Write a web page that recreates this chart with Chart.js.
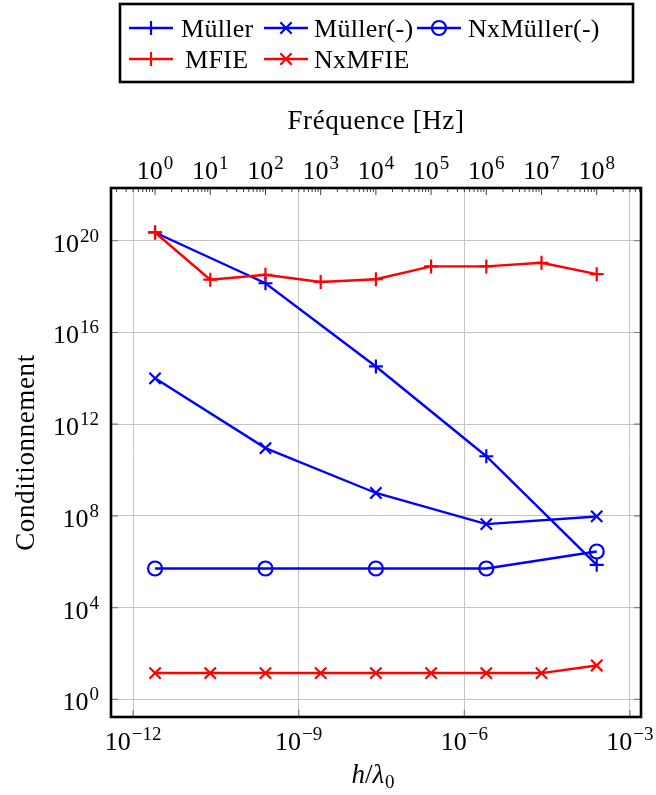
<!DOCTYPE html>
<html><head><meta charset="utf-8">
<script src="https://cdn.jsdelivr.net/npm/chart.js@4/dist/chart.umd.min.js"></script>
<style>html,body{margin:0;padding:0;background:#fff}#wrap{width:656px;height:795px}</style>
</head><body><div id="wrap"><canvas id="c" width="656" height="795"></canvas></div>
<script>
// ---- data ----
const hLambdaAll  = [2.5e-12, 2.5e-11, 2.5e-10, 2.5e-9, 2.5e-8, 2.5e-7, 2.5e-6, 2.5e-5, 2.5e-4];
const hLambdaEven = [2.5e-12, 2.5e-10, 2.5e-8, 2.5e-6, 2.5e-4];
const muller        = [2.3e20, 1.4e18, 3.3e14, 4.0e10, 7.4e5];
const mullerMinus   = [1.0e14, 9.1e10, 1.0e9, 4.4e7, 9.5e7];
const nxMullerMinus = [5.1e5, 5.1e5, 5.1e5, 5.1e5, 2.8e6];
const mfie   = [2.3e20, 2.0e18, 3.3e18, 1.6e18, 2.1e18, 7.6e18, 7.6e18, 1.1e19, 3.5e18];
const nxMfie = [14, 14, 14, 14, 14, 14, 14, 14, 30];
const seriesNames = ['Müller', 'Müller(-)', 'NxMüller(-)', 'MFIE', 'NxMFIE'];
// ---- ticks ----
const xTickValues    = [1e-12, 1e-9, 1e-6, 1e-3];
const freqTickValues = [1, 10, 100, 1e3, 1e4, 1e5, 1e6, 1e7, 1e8];
const yTickValues    = [1, 1e4, 1e8, 1e12, 1e16, 1e20];
const xTitle = 'h/λ0';
const freqTitle = 'Fréquence [Hz]';
const yTitle = 'Conditionnement';
// ---- axis limits ----
const hOverC = 2.5e-12;          // h/λ0 = hOverC * f
const xMin = 3.98e-13, xMax = 1.585e-3;
const yMin = 0.17, yMax = 2.0e22;

const FONT = '"Liberation Serif", "DejaVu Serif", serif';
const BLUE = '#0000ff', RED = '#ff0000';

function pts(xs, ys) { return xs.map((x, i) => ({x: x, y: ys[i]})); }
function ds(label, xs, ys, color, style, r, order) {
  return { label, data: pts(xs, ys), borderColor: color, backgroundColor: color,
    borderWidth: 2.4, pointStyle: style, pointRadius: r, pointHoverRadius: r,
    pointBorderWidth: 2.2, pointBorderColor: color, pointBackgroundColor: 'rgba(0,0,0,0)',
    tension: 0, fill: false, order, clip: false };
}

const datasets = [
  ds(seriesNames[0], hLambdaEven, muller, BLUE, 'cross', 7, 5),
  ds(seriesNames[1], hLambdaEven, mullerMinus, BLUE, 'crossRot', 8, 4),
  ds(seriesNames[2], hLambdaEven, nxMullerMinus, BLUE, 'circle', 7, 3),
  ds(seriesNames[3], hLambdaAll, mfie, RED, 'cross', 7, 2),
  ds(seriesNames[4], hLambdaAll, nxMfie, RED, 'crossRot', 8, 1)
];

function drawMarker(ctx, style, x, y, r) {
  ctx.beginPath();
  if (style === 'cross') {
    ctx.moveTo(x - r, y); ctx.lineTo(x + r, y);
    ctx.moveTo(x, y - r); ctx.lineTo(x, y + r);
  } else if (style === 'crossRot') {
    const d = r * Math.SQRT1_2;
    ctx.moveTo(x - d, y - d); ctx.lineTo(x + d, y + d);
    ctx.moveTo(x - d, y + d); ctx.lineTo(x + d, y - d);
  } else {
    ctx.arc(x, y, r, 0, Math.PI * 2);
  }
  ctx.stroke();
}

function drawPow(ctx, v, x, baseline, align) {
  const e = Math.round(Math.log10(v));
  const size = 26, sup = 19;
  const es = e < 0 ? '\u2212' + (-e) : String(e);
  ctx.font = size + 'px ' + FONT;
  const w1 = ctx.measureText('10').width;
  ctx.font = sup + 'px ' + FONT;
  const w2 = ctx.measureText(es).width;
  const total = w1 + 1 + w2;
  const left = align === 'center' ? x - total / 2 : (align === 'right' ? x - total : x);
  ctx.textAlign = 'left'; ctx.textBaseline = 'alphabetic';
  ctx.font = size + 'px ' + FONT;
  ctx.fillText('10', left, baseline);
  ctx.font = sup + 'px ' + FONT;
  ctx.fillText(es, left + w1 + 1, baseline - 10);
}

const decor = {
  id: 'decor',
  afterDraw(chart) {
    const ctx = chart.ctx, a = chart.chartArea, sx = chart.scales.x, sy = chart.scales.y, sf = chart.scales.x2;
    ctx.save();
    // inner tick marks
    ctx.strokeStyle = '#808080'; ctx.lineWidth = 1.2;
    ctx.beginPath();
    sx.ticks.forEach(t => { const px = sx.getPixelForValue(t.value); ctx.moveTo(px, a.bottom); ctx.lineTo(px, a.bottom - 7); });
    sy.ticks.forEach(t => { const py = sy.getPixelForValue(t.value);
      ctx.moveTo(a.left, py); ctx.lineTo(a.left + 7, py);
      ctx.moveTo(a.right, py); ctx.lineTo(a.right - 7, py); });
    ctx.stroke();
    ctx.strokeStyle = '#404040'; ctx.lineWidth = 1;
    ctx.beginPath();
    sf.ticks.forEach(t => { const px = sf.getPixelForValue(t.value); const L = t.major ? 7 : 4;
      ctx.moveTo(px, a.top); ctx.lineTo(px, a.top + L); });
    ctx.stroke();
    // frame
    ctx.strokeStyle = '#000'; ctx.lineWidth = 2.6;
    ctx.strokeRect(a.left, a.top, a.right - a.left, a.bottom - a.top);
    // tick labels
    ctx.fillStyle = '#000';
    sx.ticks.forEach(t => drawPow(ctx, t.value, sx.getPixelForValue(t.value), 750, 'center'));
    freqTickValues.forEach(v => drawPow(ctx, v, sf.getPixelForValue(v), 179, 'center'));
    sy.ticks.forEach(t => drawPow(ctx, t.value, a.left - 12, sy.getPixelForValue(t.value) + 11, 'right'));
    // titles
    const cx = (a.left + a.right) / 2;
    try { ctx.letterSpacing = '0.6px'; } catch (e) {}
    ctx.font = '27px ' + FONT; ctx.textAlign = 'center'; ctx.textBaseline = 'alphabetic';
    ctx.fillText(freqTitle, cx, 129);
    ctx.save();
    ctx.translate(34, (a.top + a.bottom) / 2); ctx.rotate(-Math.PI / 2);
    ctx.fillText(yTitle, 0, 0);
    ctx.restore();
    // h/λ0
    try { ctx.letterSpacing = '0px'; } catch (e) {}
    const parts = [['h', 'italic 27px '], ['/', '27px '], ['λ', 'italic 27px ']];
    let w = 0; const ws = [];
    parts.forEach(p => { ctx.font = p[1] + FONT; const m = ctx.measureText(p[0]).width; ws.push(m); w += m; });
    ctx.font = '19px ' + FONT; const w0 = ctx.measureText('0').width; w += w0 + 1;
    let xx = cx - w / 2 - 3; ctx.textAlign = 'left';
    parts.forEach((p, i) => { ctx.font = p[1] + FONT; ctx.fillText(p[0], xx, 783); xx += ws[i]; });
    ctx.font = '19px ' + FONT; ctx.fillText('0', xx + 1, 788);
    // legend
    ctx.strokeStyle = '#000'; ctx.lineWidth = 2.6;
    ctx.strokeRect(120, 4, 513, 78);
    const cols = [129, 264, 417];
    const rows = [{ly: 28, by: 37}, {ly: 59, by: 68}];
    const place = [[0, 0, 181], [0, 1, 314], [0, 2, 468], [1, 0, 185], [1, 1, 314]];
    try { ctx.letterSpacing = '0.3px'; } catch (e) {}
    chart.data.datasets.forEach((d, i) => {
      const r = rows[place[i][0]], x0 = cols[place[i][1]];
      ctx.strokeStyle = d.borderColor; ctx.lineWidth = 2.4;
      ctx.beginPath(); ctx.moveTo(x0, r.ly); ctx.lineTo(x0 + 44, r.ly); ctx.stroke();
      ctx.lineWidth = 2.2;
      drawMarker(ctx, d.pointStyle, x0 + 22, r.ly, d.pointRadius);
      ctx.fillStyle = '#000'; ctx.font = '26px ' + FONT; ctx.textAlign = 'left';
      ctx.fillText(d.label, place[i][2], r.by);
    });
    ctx.restore();
  }
};

new Chart(document.getElementById('c'), {
  type: 'line',
  data: { datasets },
  options: {
    responsive: false, animation: false, devicePixelRatio: 1,
    layout: { padding: { left: 111, right: 15, top: 188, bottom: 78 } },
    plugins: { legend: { display: false }, tooltip: { enabled: false } },
    scales: {
      x: { type: 'logarithmic', position: 'bottom', min: xMin, max: xMax,
        afterBuildTicks: s => { s.ticks = xTickValues.map(v => ({value: v})); },
        ticks: { display: false }, border: { display: false },
        grid: { color: '#c4c4c4', lineWidth: 1, drawTicks: false } },
      x2: { type: 'logarithmic', position: 'top', min: xMin / hOverC, max: xMax / hOverC,
        afterBuildTicks: s => {
          const out = [];
          for (let d = Math.floor(Math.log10(s.min)); d <= Math.ceil(Math.log10(s.max)); d++) {
            for (let m = 1; m <= 9; m++) {
              const v = m * Math.pow(10, d);
              if (v >= s.min && v <= s.max) out.push({value: v, major: m === 1});
            }
          }
          s.ticks = out;
        },
        ticks: { display: false }, border: { display: false },
        grid: { display: false, drawTicks: false } },
      y: { type: 'logarithmic', min: yMin, max: yMax,
        afterBuildTicks: s => { s.ticks = yTickValues.map(v => ({value: v})); },
        ticks: { display: false }, border: { display: false },
        grid: { color: '#c4c4c4', lineWidth: 1, drawTicks: false } }
    }
  },
  plugins: [decor]
});
</script></body></html>
